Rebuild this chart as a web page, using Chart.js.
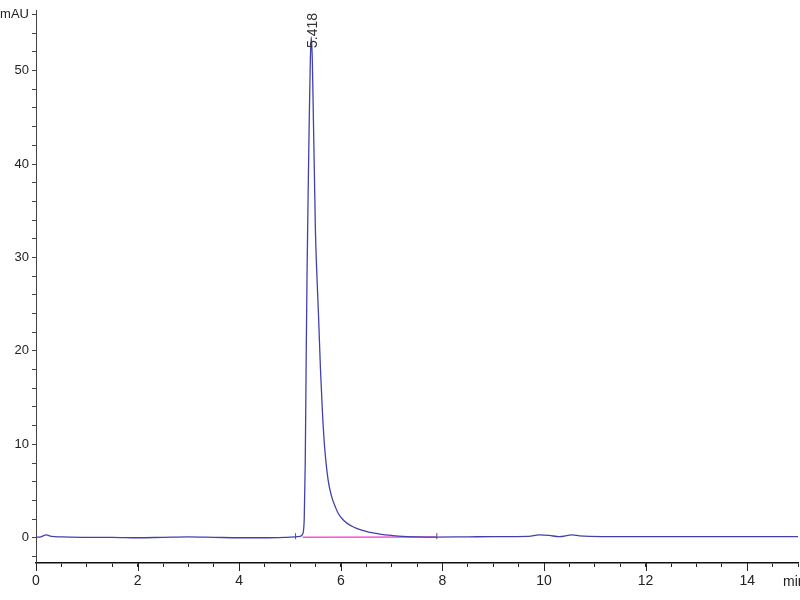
<!DOCTYPE html>
<html>
<head>
<meta charset="utf-8">
<script src="https://cdn.jsdelivr.net/npm/chart.js@4/dist/chart.umd.min.js"></script>
<style>
  html, body { margin: 0; padding: 0; background: #fff; }
  #wrap { width: 800px; height: 600px; }
</style>
</head>
<body>
<div id="wrap"><canvas id="chrom"></canvas></div>
<script>
// retention time (min) and signal (mAU)
const times = [0, 0.1, 0.2, 0.3, 0.5, 1.0, 1.5, 2.0, 2.5, 3.0, 3.5, 4.0, 4.5, 4.9, 5.1, 5.2,
  5.25, 5.28, 5.30, 5.32, 5.335, 5.36, 5.38, 5.40, 5.418, 5.44, 5.46, 5.48, 5.50, 5.53,
  5.56, 5.60, 5.64, 5.68, 5.75, 5.82, 5.90, 5.95, 6.05, 6.12, 6.25, 6.38, 6.55, 6.77,
  7.0, 7.22, 7.5, 7.85, 8.5, 9.0, 9.7, 9.9, 10.1, 10.3, 10.55, 10.7, 10.9, 11.5, 12, 13, 14, 15];
const signal = [0.05, 0.1, 0.3, 0.15, 0.1, 0.05, 0.05, 0.0, 0.05, 0.1, 0.05, 0.0, 0.0, 0.05, 0.1, 0.15,
  0.4, 2, 8, 20, 28, 38, 45, 51, 53.6, 51, 45, 39, 33, 28,
  24, 18, 13.3, 9.8, 6.2, 4.4, 3.2, 2.6, 1.9, 1.57, 1.15, 0.86, 0.6, 0.4,
  0.25, 0.14, 0.1, 0.08, 0.1, 0.12, 0.15, 0.3, 0.25, 0.12, 0.3, 0.2, 0.15, 0.12, 0.12, 0.12, 0.12, 0.12];

// integration baseline (start / end of the peak)
const baseTimes = [5.25, 7.89];
const baseValues = [0.05, 0.08];

const peakTime = 5.418;
const peakHeight = 53.6;
const peakLabel = "5.418";

const tickFont = "'Liberation Sans', sans-serif";

function toPoints(xs, ys) {
  return xs.map((x, i) => ({ x: x, y: ys[i] }));
}

// small vertical marks at the integration start and end
function markPoints(t) {
  return [{ x: t, y: -0.15 }, { x: t, y: 0.5 }];
}

const peakLabelPlugin = {
  id: 'peakLabel',
  afterDatasetsDraw(chart) {
    const ctx = chart.ctx;
    const xs = chart.scales.x;
    const ys = chart.scales.y;
    const px = xs.getPixelForValue(peakTime);
    const py = ys.getPixelForValue(peakHeight);
    ctx.save();
    ctx.fillStyle = '#333';
    ctx.font = "condensed 14px " + tickFont;
    ctx.translate(px + 2, py + 11);
    ctx.rotate(-Math.PI / 2);
    ctx.textAlign = 'left';
    ctx.textBaseline = 'middle';
    ctx.fillText(peakLabel, 0, 0);
    ctx.restore();

    // longer marks for the labelled minutes
    ctx.save();
    ctx.strokeStyle = '#222';
    ctx.lineWidth = 1;
    for (let m = 0; m <= 14; m += 2) {
      const x = Math.round(xs.getPixelForValue(m)) + 0.5;
      ctx.beginPath();
      ctx.moveTo(x, xs.top);
      ctx.lineTo(x, xs.top + 8);
      ctx.stroke();
    }
    ctx.restore();

    // unit label at the right end of the time axis
    ctx.save();
    ctx.fillStyle = '#222';
    ctx.font = "condensed 14px " + tickFont;
    ctx.textAlign = 'left';
    ctx.textBaseline = 'top';
    ctx.fillText('min', xs.right - 15, xs.top + 12);
    ctx.restore();
  }
};

new Chart(document.getElementById('chrom'), {
  type: 'line',
  data: {
    datasets: [
      {
        data: toPoints(times, signal),
        borderColor: '#4141ae',
        borderWidth: 1.3,
        pointRadius: 0,
        cubicInterpolationMode: 'monotone',
        fill: false
      },
      {
        data: toPoints(baseTimes, baseValues),
        borderColor: '#ff4fd6',
        borderWidth: 1.5,
        pointRadius: 0,
        fill: false
      },
      {
        data: markPoints(baseTimes[0] - 0.14),
        borderColor: '#555',
        borderWidth: 1,
        pointRadius: 0
      },
      {
        data: markPoints(baseTimes[1]),
        borderColor: '#555',
        borderWidth: 1,
        pointRadius: 0
      }
    ]
  },
  options: {
    responsive: true,
    maintainAspectRatio: false,
    animation: false,
    layout: {
      padding: { top: 10, right: 2, left: 0, bottom: 0 }
    },
    plugins: {
      legend: { display: false },
      tooltip: { enabled: false }
    },
    scales: {
      x: {
        type: 'linear',
        min: 0,
        max: 15,
        afterFit(scale) {
          scale.height = 37;
          scale.paddingRight = 0;
          scale.paddingLeft = 0;
        },
        grid: {
          drawOnChartArea: false,
          drawTicks: true,
          tickLength: 4,
          tickColor: '#222'
        },
        border: { display: true, color: '#111', width: 1.5 },
        ticks: {
          stepSize: 0.5,
          autoSkip: false,
          maxRotation: 0,
          includeBounds: false,
          color: '#222',
          padding: 6,
          font: { family: tickFont, size: 14, style: 'condensed' },
          callback: function(v) {
            if (v === 15) return '';
            return (v % 2 === 0) ? String(v) : '';
          }
        }
      },
      y: {
        type: 'linear',
        min: -2.7,
        max: 56.4,
        afterFit(scale) { scale.width = 36; },
        grid: {
          drawOnChartArea: false,
          drawTicks: true,
          tickLength: 4,
          tickColor: '#444'
        },
        border: { display: true, color: '#444', width: 1 },
        ticks: {
          stepSize: 2,
          autoSkip: false,
          includeBounds: false,
          color: '#222',
          padding: 3,
          font: { family: tickFont, size: 13, style: 'condensed' },
          callback: function(v) {
            if (v === 56) return 'mAU';
            return (v % 10 === 0) ? String(v) : '';
          }
        }
      }
    }
  },
  plugins: [peakLabelPlugin]
});
</script>
</body>
</html>
